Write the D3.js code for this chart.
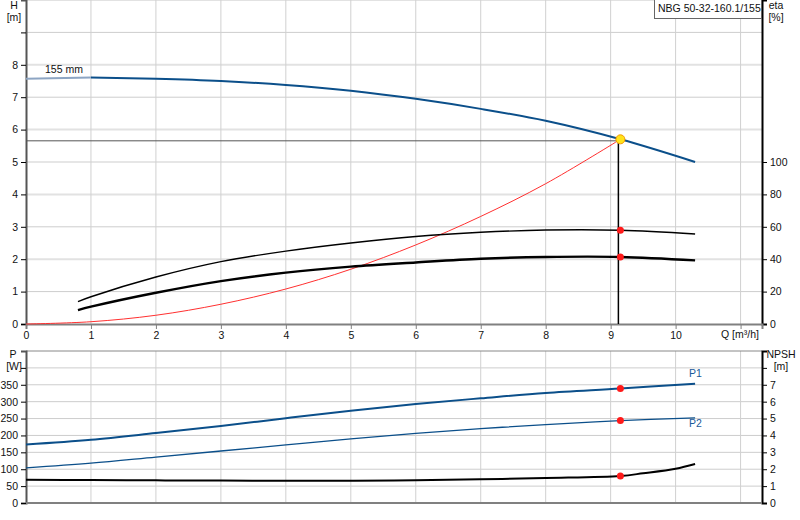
<!DOCTYPE html>
<html>
<head>
<meta charset="utf-8">
<script src="https://cdn.jsdelivr.net/npm/d3@7"></script>
<style>
  body { margin: 0; background: #fff; }
  svg { display: block; font-family: "Liberation Sans", Arial, sans-serif; font-size: 10.5px; }
</style>
</head>
<body>
<svg id="chart" width="800" height="520"></svg>
<script>
// pump curve  (Q in m3/h, H in m)
var qH = [0, 1, 2, 3, 4, 5, 6, 7, 8, 9.15, 10.3];
var headVals = [7.57, 7.61, 7.57, 7.50, 7.38, 7.20, 6.95, 6.64, 6.27, 5.70, 5.00];

// system curve
var qSys = [0, 1, 2, 3, 4, 5, 6, 7, 8, 9.15];
var hSys = [0, 0.07, 0.27, 0.61, 1.08, 1.69, 2.44, 3.32, 4.33, 5.70];

// efficiency  (%)
var qEta = [0.8, 1, 2, 3, 4, 5, 6, 7, 8, 9.15, 10.3];
var etaPump = [13.8, 16.8, 29, 38.5, 45, 50, 54, 56.6, 58, 57.9, 55.6];
var etaTotal = [8.6, 10.7, 19.3, 26.5, 31.7, 35.4, 38, 40.3, 41.4, 41.4, 39.3];

// power (W)
var qP = [0, 1, 2, 3, 4, 5, 6, 7, 8, 9.15, 10.3];
var p1Vals = [173, 187, 207, 228, 251, 273, 293, 310, 326, 339, 353];
var p2Vals = [104, 118, 136, 154, 172, 190, 206, 220, 232, 244, 252];

// NPSH (m)
var qNpsh = [0, 1, 2, 3, 4, 5, 6, 7, 8, 9.15, 9.5, 10, 10.3];
var npshVals = [1.38, 1.36, 1.34, 1.33, 1.32, 1.32, 1.34, 1.40, 1.48, 1.60, 1.76, 2.03, 2.31];

// duty point
var dutyQ = 9.15, dutyH = 5.70, dutyEtaP = 57.9, dutyEtaT = 41.4, dutyP1 = 339, dutyP2 = 244, dutyNpsh = 1.60;

var hTicks = [0, 1, 2, 3, 4, 5, 6, 7, 8, 9];
var hLabels = [0, 1, 2, 3, 4, 5, 6, 7, 8];
var etaTicks = [0, 20, 40, 60, 80, 100];
var qTicks = [0, 1, 2, 3, 4, 5, 6, 7, 8, 9, 10, 11];
var pTicks = [0, 50, 100, 150, 200, 250, 300, 350, 400];
var npshTicks = [0, 1, 2, 3, 4, 5, 6, 7, 8];

var svg = d3.select("#chart");
var blue = "#0b4f8a";

var x = d3.scaleLinear().domain([0, 11.33]).range([26, 762]);
var yH = d3.scaleLinear().domain([0, 10]).range([324, 0]);
var yEta = d3.scaleLinear().domain([0, 200]).range([324, 0]);
var yP = d3.scaleLinear().domain([0, 450]).range([503, 351]);
var yN = d3.scaleLinear().domain([0, 9]).range([503, 351]);

function zip(a, b) { return a.map(function(d, i) { return [d, b[i]]; }); }
function line(ys) {
  return d3.line().x(function(d) { return x(d[0]); }).y(function(d) { return ys(d[1]); }).curve(d3.curveCatmullRom.alpha(0.5));
}

// ---- top chart grid
var g1 = svg.append("g");
g1.selectAll(".hg").data(hTicks.slice(1).concat([10])).enter().append("line")
  .attr("x1", 26).attr("x2", 762)
  .attr("y1", function(d) { return yH(d); }).attr("y2", function(d) { return yH(d); })
  .attr("stroke", function(d) { return d % 2 == 0 ? "#e2e2e2" : "#cdcdcd"; })
  .attr("stroke-width", function(d) { return d % 2 == 0 ? 2 : 1; });
g1.selectAll(".vg").data(qTicks.slice(1)).enter().append("line")
  .attr("x1", function(d) { return x(d); }).attr("x2", function(d) { return x(d); })
  .attr("y1", 0).attr("y2", 324)
  .attr("stroke", "#d0d0d0").attr("stroke-width", 1);

// axes top
var axL = g1.append("g").attr("transform", "translate(26,0)")
  .call(d3.axisLeft(yH).tickValues(hTicks).tickSize(5).tickFormat(function(d) { return hLabels.indexOf(d) >= 0 ? d : ""; }));
var axR = g1.append("g").attr("transform", "translate(762,0)")
  .call(d3.axisRight(yEta).tickValues(etaTicks).tickSize(5));
var axB = g1.append("g").attr("transform", "translate(0,324)")
  .call(d3.axisBottom(x).tickValues(qTicks).tickSize(5).tickFormat(function(d) { return d <= 10 ? d : ""; }));

// ---- bottom chart grid
var g2 = svg.append("g");
g2.selectAll(".pg").data(pTicks.slice(1)).enter().append("line")
  .attr("x1", 26).attr("x2", 762)
  .attr("y1", function(d) { return yP(d); }).attr("y2", function(d) { return yP(d); })
  .attr("stroke", "#cdcdcd");
g2.selectAll(".vg").data(qTicks.slice(1)).enter().append("line")
  .attr("x1", function(d) { return x(d); }).attr("x2", function(d) { return x(d); })
  .attr("y1", 351).attr("y2", 503)
  .attr("stroke", "#d0d0d0");
g2.append("line").attr("x1", 26).attr("x2", 762).attr("y1", 351).attr("y2", 351).attr("stroke", "#888");
var axPL = g2.append("g").attr("transform", "translate(26,0)")
  .call(d3.axisLeft(yP).tickValues(pTicks).tickSize(5).tickFormat(function(d) { return d < 400 ? d : ""; }));
g2.append("g").attr("transform", "translate(762,0)")
  .call(d3.axisRight(yN).tickValues(npshTicks).tickSize(5).tickFormat(function(d) { return d < 8 ? d : ""; }));
g2.append("line").attr("x1", 26).attr("x2", 762).attr("y1", 503).attr("y2", 503).attr("stroke", "#808080").attr("stroke-width", 2);

// axis styling
svg.selectAll(".domain").attr("stroke-width", 2);
svg.selectAll(".tick text").attr("font-size", 10.5).attr("font-family", "Liberation Sans, Arial, sans-serif").attr("fill", "#111");
axL.select(".domain").attr("stroke", "#555");
axPL.select(".domain").attr("stroke", "#555");
axB.select(".domain").attr("stroke", "#808080");
axB.selectAll(".tick line").attr("stroke", "#808080");

// ---- curves top
svg.append("path").datum(zip(qSys, hSys)).attr("d", line(yH)).attr("fill", "none").attr("stroke", "#ff3030").attr("stroke-width", 1);

svg.append("path").datum(zip(qEta, etaPump)).attr("d", line(yEta)).attr("fill", "none").attr("stroke", "#000").attr("stroke-width", 1.4);
svg.append("path").datum(zip(qEta, etaTotal)).attr("d", line(yEta)).attr("fill", "none").attr("stroke", "#000").attr("stroke-width", 2.4);

var hData = zip(qH, headVals);
svg.append("path").datum(hData.slice(0, 2)).attr("d", line(yH)).attr("fill", "none").attr("stroke", "#8da5c3").attr("stroke-width", 2);
svg.append("path").datum(hData.slice(1)).attr("d", line(yH)).attr("fill", "none").attr("stroke", blue).attr("stroke-width", 2);

// duty lines
svg.append("line").attr("x1", 26).attr("x2", x(dutyQ)).attr("y1", yH(dutyH) + 1.5).attr("y2", yH(dutyH) + 1.5)
  .attr("stroke", "#555").attr("stroke-width", 1);
svg.append("line").attr("x1", x(dutyQ) - 2).attr("x2", x(dutyQ) - 2).attr("y1", yH(dutyH)).attr("y2", 324)
  .attr("stroke", "#000").attr("stroke-width", 1.5);

svg.append("text").attr("x", 45).attr("y", 73).attr("fill", "#111").text("155 mm");

// ---- curves bottom
svg.append("path").datum(zip(qP, p1Vals)).attr("d", line(yP)).attr("fill", "none").attr("stroke", blue).attr("stroke-width", 2);
svg.append("path").datum(zip(qP, p2Vals)).attr("d", line(yP)).attr("fill", "none").attr("stroke", blue).attr("stroke-width", 1.3);
svg.append("path").datum(zip(qNpsh, npshVals)).attr("d", line(yN)).attr("fill", "none").attr("stroke", "#000").attr("stroke-width", 2);

// points
var dots = [[dutyQ, yEta(dutyEtaP)], [dutyQ, yEta(dutyEtaT)], [dutyQ, yP(dutyP1)], [dutyQ, yP(dutyP2)], [dutyQ, yN(dutyNpsh)]];
svg.selectAll(".dot").data(dots).enter().append("circle")
  .attr("cx", function(d) { return x(d[0]); }).attr("cy", function(d) { return d[1]; })
  .attr("r", 3.5).attr("fill", "#ff1a1a");
svg.append("circle").attr("cx", x(dutyQ)).attr("cy", yH(dutyH)).attr("r", 4.5)
  .attr("fill", "#ffe31a").attr("stroke", "#f59a00").attr("stroke-width", 1);

svg.append("text").attr("x", 689).attr("y", 377).attr("fill", "#1a5a9a").text("P1");
svg.append("text").attr("x", 689).attr("y", 427).attr("fill", "#1a5a9a").text("P2");

// ---- axis titles
function title(xp, yp, t, anchor) {
  svg.append("text").attr("x", xp).attr("y", yp).attr("text-anchor", anchor || "middle").attr("fill", "#111").text(t);
}
title(14, 9, "H");
title(14, 21, "[m]");
title(776, 9, "eta");
title(776, 21, "[%]");
title(740, 338, "Q [m³/h]");
title(13, 358, "P");
title(14, 370, "[W]");
title(781, 358, "NPSH");
title(781, 370, "[m]");

// legend box
svg.append("rect").attr("x", 654.5).attr("y", -1).attr("width", 107).attr("height", 19.5)
  .attr("fill", "#fff").attr("stroke", "#666");
svg.append("text").attr("x", 658).attr("y", 12).attr("fill", "#111").text("NBG 50-32-160.1/155");
</script>
</body>
</html>
